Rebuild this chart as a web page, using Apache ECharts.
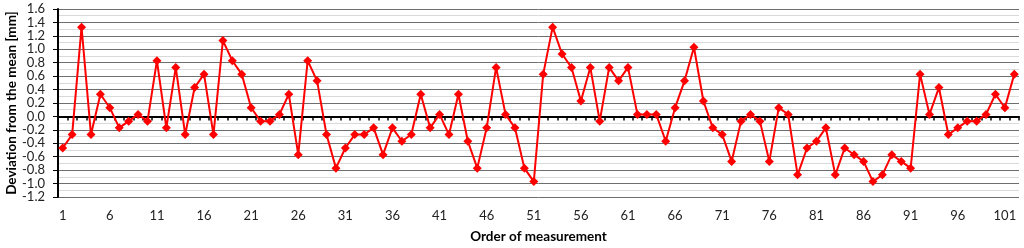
<!DOCTYPE html>
<html>
<head>
<meta charset="utf-8">
<script src="https://cdn.jsdelivr.net/npm/echarts@6/dist/echarts.min.js"></script>
<style>
  html, body { margin: 0; padding: 0; background: #fff; }
  #chart { width: 1024px; height: 248px; }
</style>
</head>
<body>
<div id="chart"></div>
<script>
// measurement order 1..102
const orders = [];
for (let i = 1; i <= 102; i++) orders.push(String(i));

// deviation from the mean [mm]
const deviations = [
  -0.47, -0.27, 1.33, -0.27, 0.33, 0.13, -0.17, -0.07, 0.03, -0.07,
  0.83, -0.17, 0.73, -0.27, 0.43, 0.63, -0.27, 1.13, 0.83, 0.63,
  0.13, -0.07, -0.07, 0.03, 0.33, -0.57, 0.83, 0.53, -0.27, -0.77,
  -0.47, -0.27, -0.27, -0.17, -0.57, -0.17, -0.37, -0.27, 0.33, -0.17,
  0.03, -0.27, 0.33, -0.37, -0.77, -0.17, 0.73, 0.03, -0.17, -0.77,
  -0.97, 0.63, 1.33, 0.93, 0.73, 0.23, 0.73, -0.07, 0.73, 0.53,
  0.73, 0.03, 0.03, 0.03, -0.37, 0.13, 0.53, 1.03, 0.23, -0.17,
  -0.27, -0.67, -0.07, 0.03, -0.07, -0.67, 0.13, 0.03, -0.87, -0.47,
  -0.37, -0.17, -0.87, -0.47, -0.57, -0.67, -0.97, -0.87, -0.57, -0.67,
  -0.77, 0.63, 0.03, 0.43, -0.27, -0.17, -0.07, -0.07, 0.03, 0.33,
  0.13, 0.63
];

const yMin = -1.2;
const yMax = 1.6;
const yStep = 0.2;

const font = 'Lato, "Open Sans", sans-serif';

const option = {
    animation: false,
    grid: {
        left: 58,
        right: 5,
        top: 9,
        bottom: 51,
        containLabel: false,
        outerBoundsMode: 'none'
    },
    xAxis: [
        {
            // zero line with ticks
            type: 'category',
            data: orders,
            position: 'bottom',
            boundaryGap: true,
            axisLine: {
                onZero: true,
                lineStyle: { color: '#000', width: 2 }
            },
            axisTick: {
                show: true,
                interval: 0,
                length: 4,
                lineStyle: { color: '#000', width: 1.5 }
            },
            axisLabel: { show: false },
            splitLine: { show: false }
        },
        {
            // labels at the bottom
            type: 'category',
            data: orders,
            position: 'bottom',
            boundaryGap: true,
            axisLine: { show: false, onZero: false },
            axisTick: { show: false },
            axisLabel: {
                interval: 4,
                margin: 12,
                color: '#222',
                fontSize: 13,
                fontFamily: font
            },
            splitLine: { show: false },
            name: 'Order of measurement',
            nameLocation: 'middle',
            nameGap: 33,
            nameMoveOverlap: false,
            nameTextStyle: {
                color: '#000',
                fontSize: 13.5,
                fontWeight: 'bold',
                fontFamily: font
            }
        }
    ],
    yAxis: {
        type: 'value',
        min: yMin,
        max: yMax,
        interval: yStep,
        axisLine: {
            show: true,
            lineStyle: { color: '#000', width: 2 }
        },
        axisTick: {
            show: true,
            length: 5,
            lineStyle: { color: '#000' }
        },
        axisLabel: {
            margin: 13,
            color: '#222',
            fontSize: 13,
            fontFamily: font,
            formatter: v => v.toFixed(1)
        },
        splitLine: {
            show: true,
            lineStyle: { color: '#6e6e6e', width: 1 }
        },
        minorTick: { show: false, splitNumber: 2 },
        minorSplitLine: {
            show: true,
            lineStyle: { color: '#d9d9d9', width: 1 }
        },
        name: 'Deviation from the mean [mm]',
        nameLocation: 'middle',
        nameGap: 39,
        nameMoveOverlap: false,
        nameTextStyle: {
            color: '#000',
            fontSize: 13.5,
            fontWeight: 'bold',
            fontFamily: font
        }
    },
    series: [
        {
            type: 'line',
            xAxisIndex: 1,
            data: deviations,
            symbol: 'diamond',
            symbolSize: 9,
            showAllSymbol: true,
            lineStyle: { color: '#ff0000', width: 2 },
            itemStyle: { color: '#ff0000' },
            z: 5
        }
    ]
};

echarts.init(document.getElementById('chart')).setOption(option);
</script>
</body>
</html>
